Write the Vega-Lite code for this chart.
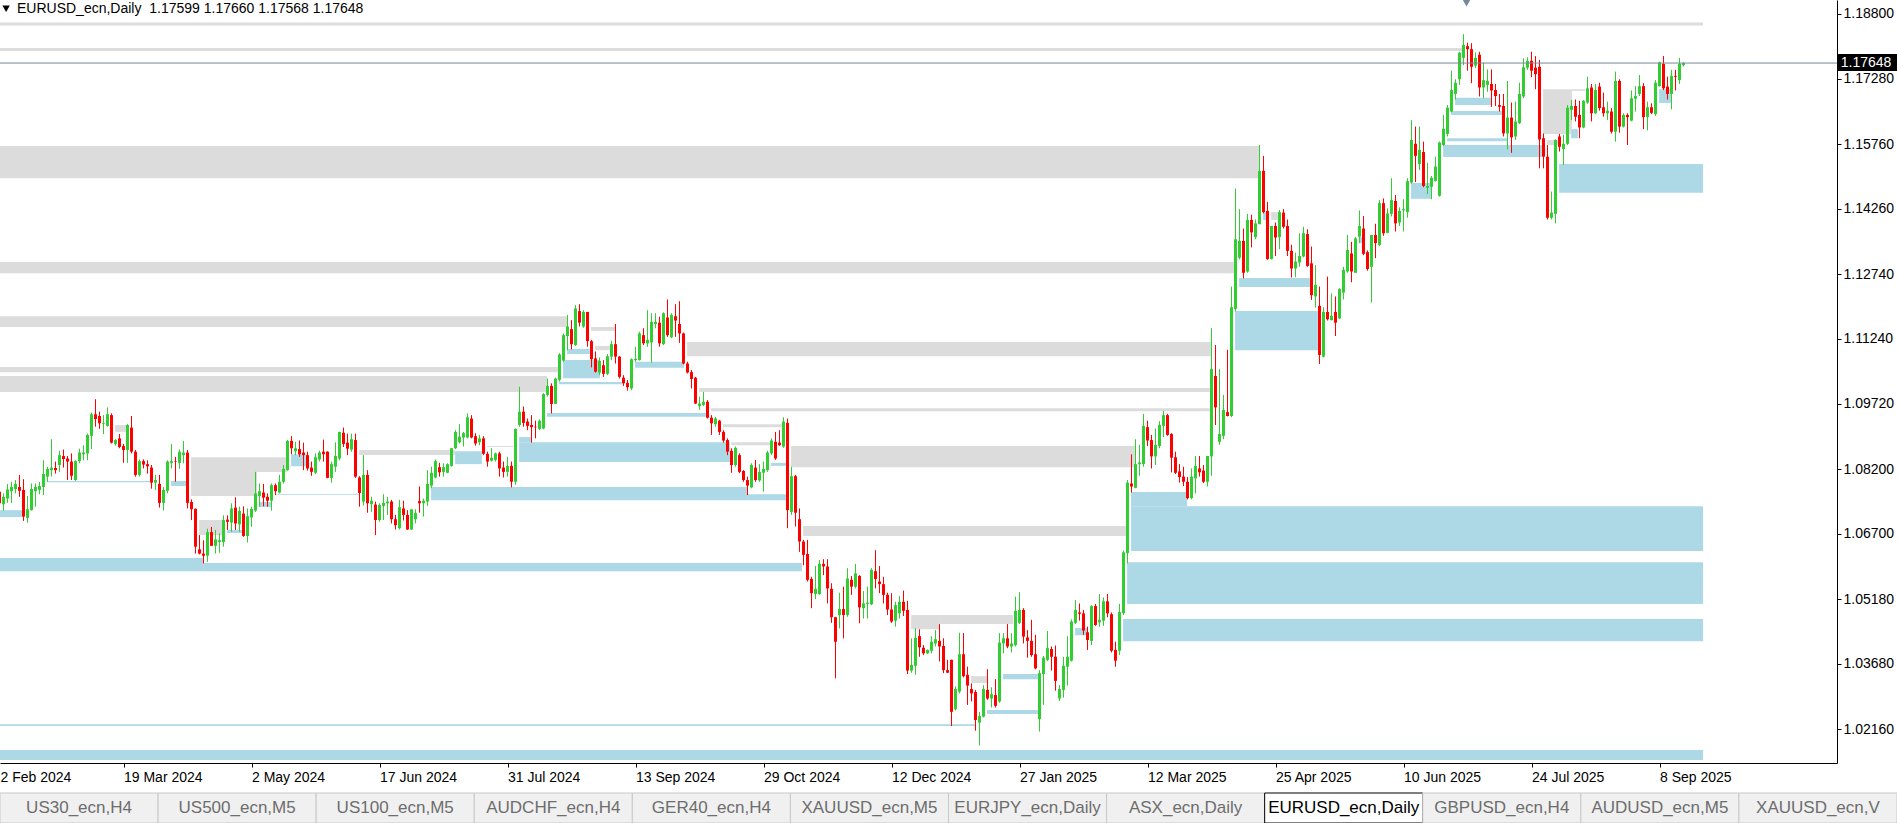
{
"$schema":"https://vega.github.io/schema/vega-lite/v6.json",
"width":1837,"height":763,
"autosize":{"type":"none"},
"padding":{"left":0,"top":0,"right":60,"bottom":60},
"background":"#ffffff",
"config":{"view":{"stroke":null},"font":"Liberation Sans","scale":{"continuousPadding":0},
"axis":{"grid":false,"title":null,"labelFont":"Liberation Sans","labelFontSize":14,"labelColor":"#000000","tickColor":"#000000","domainColor":"#000000","tickSize":4,"labelPadding":2}},
"datasets":{
"candles":[
{"k":-1,"o":1.0768,"h":1.0776,"l":1.0737,"c":1.0741},
{"k":0,"o":1.0739,"h":1.0764,"l":1.0724,"c":1.0756},
{"k":1,"o":1.0752,"h":1.0786,"l":1.0742,"c":1.0773},
{"k":2,"o":1.0769,"h":1.0791,"l":1.0742,"c":1.0779},
{"k":3,"o":1.0774,"h":1.0795,"l":1.0764,"c":1.0786},
{"k":4,"o":1.0779,"h":1.0807,"l":1.0756,"c":1.0770},
{"k":5,"o":1.0772,"h":1.0797,"l":1.0700,"c":1.0710},
{"k":6,"o":1.0707,"h":1.0758,"l":1.0696,"c":1.0727},
{"k":7,"o":1.0725,"h":1.0787,"l":1.0724,"c":1.0774},
{"k":8,"o":1.0769,"h":1.0787,"l":1.0733,"c":1.0779},
{"k":9,"o":1.0772,"h":1.0791,"l":1.0762,"c":1.0781},
{"k":10,"o":1.0779,"h":1.0841,"l":1.0760,"c":1.0809},
{"k":11,"o":1.0803,"h":1.0826,"l":1.0791,"c":1.0821},
{"k":12,"o":1.0818,"h":1.0890,"l":1.0803,"c":1.0824},
{"k":13,"o":1.0823,"h":1.0838,"l":1.0810,"c":1.0818},
{"k":14,"o":1.0830,"h":1.0863,"l":1.0814,"c":1.0853},
{"k":15,"o":1.0851,"h":1.0866,"l":1.0824,"c":1.0844},
{"k":16,"o":1.0845,"h":1.0851,"l":1.0795,"c":1.0838},
{"k":17,"o":1.0838,"h":1.0857,"l":1.0795,"c":1.0805},
{"k":18,"o":1.0795,"h":1.0841,"l":1.0793,"c":1.0839},
{"k":19,"o":1.0839,"h":1.0868,"l":1.0834,"c":1.0859},
{"k":20,"o":1.0855,"h":1.0876,"l":1.0841,"c":1.0859},
{"k":21,"o":1.0857,"h":1.0903,"l":1.0841,"c":1.0900},
{"k":22,"o":1.0898,"h":1.0952,"l":1.0867,"c":1.0948},
{"k":23,"o":1.0948,"h":1.0983,"l":1.0919,"c":1.0937},
{"k":24,"o":1.0944,"h":1.0954,"l":1.0914,"c":1.0927},
{"k":25,"o":1.0926,"h":1.0946,"l":1.0902,"c":1.0928},
{"k":26,"o":1.0921,"h":1.0964,"l":1.0919,"c":1.0948},
{"k":27,"o":1.0946,"h":1.0950,"l":1.0880,"c":1.0882},
{"k":28,"o":1.0879,"h":1.0890,"l":1.0875,"c":1.0888},
{"k":29,"o":1.0892,"h":1.0902,"l":1.0869,"c":1.0872},
{"k":30,"o":1.0874,"h":1.0879,"l":1.0835,"c":1.0865},
{"k":31,"o":1.0865,"h":1.0925,"l":1.0835,"c":1.0923},
{"k":32,"o":1.0917,"h":1.0944,"l":1.0857,"c":1.0861},
{"k":33,"o":1.0861,"h":1.0865,"l":1.0803,"c":1.0807},
{"k":34,"o":1.0807,"h":1.0843,"l":1.0803,"c":1.0839},
{"k":35,"o":1.0839,"h":1.0843,"l":1.0822,"c":1.0831},
{"k":36,"o":1.0832,"h":1.0841,"l":1.0810,"c":1.0827},
{"k":37,"o":1.0824,"h":1.0830,"l":1.0775,"c":1.0789},
{"k":38,"o":1.0789,"h":1.0807,"l":1.0772,"c":1.0795},
{"k":39,"o":1.0786,"h":1.0807,"l":1.0731,"c":1.0742},
{"k":40,"o":1.0742,"h":1.0779,"l":1.0724,"c":1.0772},
{"k":41,"o":1.0770,"h":1.0841,"l":1.0764,"c":1.0838},
{"k":42,"o":1.0835,"h":1.0879,"l":1.0822,"c":1.0839},
{"k":43,"o":1.0839,"h":1.0849,"l":1.0791,"c":1.0838},
{"k":44,"o":1.0835,"h":1.0866,"l":1.0821,"c":1.0861},
{"k":45,"o":1.0853,"h":1.0886,"l":1.0834,"c":1.0859},
{"k":46,"o":1.0859,"h":1.0865,"l":1.0729,"c":1.0742},
{"k":47,"o":1.0744,"h":1.0750,"l":1.0702,"c":1.0727},
{"k":48,"o":1.0728,"h":1.0729,"l":1.0624,"c":1.0640},
{"k":49,"o":1.0634,"h":1.0667,"l":1.0622,"c":1.0624},
{"k":50,"o":1.0624,"h":1.0655,"l":1.0601,"c":1.0619},
{"k":51,"o":1.0619,"h":1.0682,"l":1.0605,"c":1.0674},
{"k":52,"o":1.0674,"h":1.0686,"l":1.0642,"c":1.0642},
{"k":53,"o":1.0642,"h":1.0679,"l":1.0624,"c":1.0657},
{"k":54,"o":1.0651,"h":1.0671,"l":1.0626,"c":1.0655},
{"k":55,"o":1.0651,"h":1.0713,"l":1.0640,"c":1.0702},
{"k":56,"o":1.0703,"h":1.0713,"l":1.0679,"c":1.0698},
{"k":57,"o":1.0696,"h":1.0741,"l":1.0675,"c":1.0729},
{"k":58,"o":1.0731,"h":1.0755,"l":1.0679,"c":1.0694},
{"k":59,"o":1.0692,"h":1.0733,"l":1.0675,"c":1.0723},
{"k":60,"o":1.0717,"h":1.0734,"l":1.0663,"c":1.0665},
{"k":61,"o":1.0665,"h":1.0729,"l":1.0650,"c":1.0711},
{"k":62,"o":1.0708,"h":1.0733,"l":1.0686,"c":1.0728},
{"k":63,"o":1.0724,"h":1.0814,"l":1.0721,"c":1.0764},
{"k":64,"o":1.0758,"h":1.0787,"l":1.0733,"c":1.0769},
{"k":65,"o":1.0766,"h":1.0786,"l":1.0734,"c":1.0754},
{"k":66,"o":1.0756,"h":1.0764,"l":1.0733,"c":1.0747},
{"k":67,"o":1.0747,"h":1.0787,"l":1.0724,"c":1.0783},
{"k":68,"o":1.0783,"h":1.0787,"l":1.0760,"c":1.0769},
{"k":69,"o":1.0766,"h":1.0807,"l":1.0764,"c":1.0791},
{"k":70,"o":1.0791,"h":1.0830,"l":1.0787,"c":1.0821},
{"k":71,"o":1.0818,"h":1.0888,"l":1.0817,"c":1.0886},
{"k":72,"o":1.0886,"h":1.0897,"l":1.0855,"c":1.0869},
{"k":73,"o":1.0862,"h":1.0884,"l":1.0853,"c":1.0869},
{"k":74,"o":1.0867,"h":1.0887,"l":1.0849,"c":1.0855},
{"k":75,"o":1.0859,"h":1.0882,"l":1.0818,"c":1.0853},
{"k":76,"o":1.0853,"h":1.0861,"l":1.0817,"c":1.0822},
{"k":77,"o":1.0824,"h":1.0838,"l":1.0805,"c":1.0814},
{"k":78,"o":1.0812,"h":1.0857,"l":1.0809,"c":1.0848},
{"k":79,"o":1.0843,"h":1.0863,"l":1.0838,"c":1.0859},
{"k":80,"o":1.0861,"h":1.0889,"l":1.0838,"c":1.0855},
{"k":81,"o":1.0861,"h":1.0862,"l":1.0799,"c":1.0800},
{"k":82,"o":1.0800,"h":1.0838,"l":1.0789,"c":1.0832},
{"k":83,"o":1.0826,"h":1.0883,"l":1.0814,"c":1.0851},
{"k":84,"o":1.0845,"h":1.0907,"l":1.0841,"c":1.0907},
{"k":85,"o":1.0905,"h":1.0917,"l":1.0872,"c":1.0879},
{"k":86,"o":1.0882,"h":1.0903,"l":1.0853,"c":1.0868},
{"k":87,"o":1.0866,"h":1.0903,"l":1.0861,"c":1.0890},
{"k":88,"o":1.0888,"h":1.0903,"l":1.0800,"c":1.0803},
{"k":89,"o":1.0801,"h":1.0804,"l":1.0733,"c":1.0765},
{"k":90,"o":1.0745,"h":1.0853,"l":1.0736,"c":1.0807},
{"k":91,"o":1.0807,"h":1.0818,"l":1.0719,"c":1.0741},
{"k":92,"o":1.0739,"h":1.0756,"l":1.0721,"c":1.0747},
{"k":93,"o":1.0738,"h":1.0745,"l":1.0667,"c":1.0702},
{"k":94,"o":1.0702,"h":1.0741,"l":1.0698,"c":1.0737},
{"k":95,"o":1.0735,"h":1.0762,"l":1.0702,"c":1.0742},
{"k":96,"o":1.0741,"h":1.0756,"l":1.0714,"c":1.0745},
{"k":97,"o":1.0745,"h":1.0749,"l":1.0694,"c":1.0704},
{"k":98,"o":1.0704,"h":1.0714,"l":1.0680,"c":1.0690},
{"k":99,"o":1.0683,"h":1.0749,"l":1.0680,"c":1.0732},
{"k":100,"o":1.0729,"h":1.0747,"l":1.0701,"c":1.0714},
{"k":101,"o":1.0714,"h":1.0725,"l":1.0679,"c":1.0680},
{"k":102,"o":1.0680,"h":1.0727,"l":1.0679,"c":1.0727},
{"k":103,"o":1.0704,"h":1.0727,"l":1.0694,"c":1.0718},
{"k":104,"o":1.0746,"h":1.0780,"l":1.0719,"c":1.0741},
{"k":105,"o":1.0741,"h":1.0752,"l":1.0710,"c":1.0747},
{"k":106,"o":1.0745,"h":1.0818,"l":1.0735,"c":1.0786},
{"k":107,"o":1.0782,"h":1.0826,"l":1.0776,"c":1.0812},
{"k":108,"o":1.0801,"h":1.0843,"l":1.0799,"c":1.0839},
{"k":109,"o":1.0825,"h":1.0835,"l":1.0803,"c":1.0813},
{"k":110,"o":1.0814,"h":1.0834,"l":1.0803,"c":1.0825},
{"k":111,"o":1.0812,"h":1.0834,"l":1.0811,"c":1.0832},
{"k":112,"o":1.0828,"h":1.0869,"l":1.0826,"c":1.0869},
{"k":113,"o":1.0869,"h":1.0911,"l":1.0867,"c":1.0907},
{"k":114,"o":1.0883,"h":1.0925,"l":1.0880,"c":1.0896},
{"k":115,"o":1.0894,"h":1.0907,"l":1.0873,"c":1.0904},
{"k":116,"o":1.0894,"h":1.0950,"l":1.0892,"c":1.0941},
{"k":117,"o":1.0938,"h":1.0946,"l":1.0892,"c":1.0894},
{"k":118,"o":1.0897,"h":1.0904,"l":1.0875,"c":1.0880},
{"k":119,"o":1.0883,"h":1.0900,"l":1.0876,"c":1.0892},
{"k":120,"o":1.0892,"h":1.0897,"l":1.0853,"c":1.0856},
{"k":121,"o":1.0856,"h":1.0861,"l":1.0826,"c":1.0838},
{"k":122,"o":1.0840,"h":1.0869,"l":1.0838,"c":1.0847},
{"k":123,"o":1.0842,"h":1.0859,"l":1.0838,"c":1.0857},
{"k":124,"o":1.0857,"h":1.0861,"l":1.0803,"c":1.0822},
{"k":125,"o":1.0824,"h":1.0838,"l":1.0801,"c":1.0814},
{"k":126,"o":1.0814,"h":1.0849,"l":1.0803,"c":1.0828},
{"k":127,"o":1.0828,"h":1.0838,"l":1.0778,"c":1.0791},
{"k":128,"o":1.0791,"h":1.0915,"l":1.0784,"c":1.0914},
{"k":129,"o":1.0923,"h":1.1012,"l":1.0919,"c":1.0954},
{"k":130,"o":1.0954,"h":1.0966,"l":1.0919,"c":1.0928},
{"k":131,"o":1.0931,"h":1.0938,"l":1.0911,"c":1.0921},
{"k":132,"o":1.0923,"h":1.0946,"l":1.0882,"c":1.0918},
{"k":133,"o":1.0919,"h":1.0933,"l":1.0892,"c":1.0918},
{"k":134,"o":1.0914,"h":1.0936,"l":1.0911,"c":1.0933},
{"k":135,"o":1.0915,"h":1.0997,"l":1.0913,"c":1.0995},
{"k":136,"o":1.0993,"h":1.1031,"l":1.0989,"c":1.1014},
{"k":137,"o":1.1014,"h":1.1020,"l":1.0950,"c":1.0972},
{"k":138,"o":1.0972,"h":1.1033,"l":1.0972,"c":1.1031},
{"k":139,"o":1.1028,"h":1.1090,"l":1.1024,"c":1.1087},
{"k":140,"o":1.1073,"h":1.1136,"l":1.1070,"c":1.1132},
{"k":141,"o":1.1130,"h":1.1179,"l":1.1097,"c":1.1152},
{"k":142,"o":1.1146,"h":1.1167,"l":1.1099,"c":1.1111},
{"k":143,"o":1.1109,"h":1.1202,"l":1.1107,"c":1.1194},
{"k":144,"o":1.1188,"h":1.1204,"l":1.1152,"c":1.1161},
{"k":145,"o":1.1152,"h":1.1190,"l":1.1149,"c":1.1186},
{"k":146,"o":1.1186,"h":1.1186,"l":1.1105,"c":1.1118},
{"k":147,"o":1.1118,"h":1.1121,"l":1.1057,"c":1.1076},
{"k":148,"o":1.1078,"h":1.1094,"l":1.1045,"c":1.1047},
{"k":149,"o":1.1045,"h":1.1080,"l":1.1039,"c":1.1072},
{"k":150,"o":1.1062,"h":1.1074,"l":1.1035,"c":1.1042},
{"k":151,"o":1.1042,"h":1.1088,"l":1.1039,"c":1.1083},
{"k":152,"o":1.1082,"h":1.1119,"l":1.1074,"c":1.1111},
{"k":153,"o":1.1111,"h":1.1158,"l":1.1066,"c":1.1082},
{"k":154,"o":1.1082,"h":1.1083,"l":1.1031,"c":1.1035},
{"k":155,"o":1.1033,"h":1.1039,"l":1.1014,"c":1.1020},
{"k":156,"o":1.1021,"h":1.1028,"l":1.1003,"c":1.1011},
{"k":157,"o":1.1008,"h":1.1078,"l":1.1004,"c":1.1076},
{"k":158,"o":1.1074,"h":1.1105,"l":1.1070,"c":1.1077},
{"k":159,"o":1.1074,"h":1.1140,"l":1.1073,"c":1.1136},
{"k":160,"o":1.1132,"h":1.1148,"l":1.1109,"c":1.1113},
{"k":161,"o":1.1113,"h":1.1190,"l":1.1105,"c":1.1121},
{"k":162,"o":1.1115,"h":1.1183,"l":1.1068,"c":1.1163},
{"k":163,"o":1.1158,"h":1.1183,"l":1.1148,"c":1.1163},
{"k":164,"o":1.1161,"h":1.1175,"l":1.1105,"c":1.1113},
{"k":165,"o":1.1111,"h":1.1185,"l":1.1109,"c":1.1183},
{"k":166,"o":1.1173,"h":1.1215,"l":1.1128,"c":1.1132},
{"k":167,"o":1.1127,"h":1.1183,"l":1.1125,"c":1.1179},
{"k":168,"o":1.1176,"h":1.1204,"l":1.1128,"c":1.1166},
{"k":169,"o":1.1158,"h":1.1211,"l":1.1114,"c":1.1136},
{"k":170,"o":1.1136,"h":1.1138,"l":1.1064,"c":1.1066},
{"k":171,"o":1.1066,"h":1.1070,"l":1.1043,"c":1.1045},
{"k":172,"o":1.1046,"h":1.1051,"l":1.1008,"c":1.1030},
{"k":173,"o":1.1033,"h":1.1035,"l":1.0972,"c":1.0973},
{"k":174,"o":1.0967,"h":1.0989,"l":1.0958,"c":1.0973},
{"k":175,"o":1.0970,"h":1.1000,"l":1.0967,"c":1.0977},
{"k":176,"o":1.0977,"h":1.0981,"l":1.0938,"c":1.0940},
{"k":177,"o":1.0940,"h":1.0946,"l":1.0900,"c":1.0927},
{"k":178,"o":1.0925,"h":1.0942,"l":1.0919,"c":1.0938},
{"k":179,"o":1.0933,"h":1.0935,"l":1.0900,"c":1.0907},
{"k":180,"o":1.0907,"h":1.0911,"l":1.0882,"c":1.0887},
{"k":181,"o":1.0888,"h":1.0892,"l":1.0853,"c":1.0861},
{"k":182,"o":1.0863,"h":1.0869,"l":1.0812,"c":1.0830},
{"k":183,"o":1.0830,"h":1.0873,"l":1.0826,"c":1.0870},
{"k":184,"o":1.0853,"h":1.0857,"l":1.0811,"c":1.0814},
{"k":185,"o":1.0816,"h":1.0818,"l":1.0791,"c":1.0795},
{"k":186,"o":1.0795,"h":1.0803,"l":1.0760,"c":1.0782},
{"k":187,"o":1.0778,"h":1.0834,"l":1.0776,"c":1.0830},
{"k":188,"o":1.0824,"h":1.0842,"l":1.0791,"c":1.0795},
{"k":189,"o":1.0794,"h":1.0832,"l":1.0791,"c":1.0814},
{"k":190,"o":1.0812,"h":1.0838,"l":1.0768,"c":1.0821},
{"k":191,"o":1.0818,"h":1.0863,"l":1.0814,"c":1.0859},
{"k":192,"o":1.0857,"h":1.0892,"l":1.0853,"c":1.0887},
{"k":193,"o":1.0884,"h":1.0907,"l":1.0842,"c":1.0845},
{"k":194,"o":1.0882,"h":1.0911,"l":1.0875,"c":1.0876},
{"k":195,"o":1.0873,"h":1.0941,"l":1.0870,"c":1.0931},
{"k":196,"o":1.0928,"h":1.0938,"l":1.0683,"c":1.0725},
{"k":197,"o":1.0721,"h":1.0826,"l":1.0714,"c":1.0804},
{"k":198,"o":1.0804,"h":1.0807,"l":1.0687,"c":1.0719},
{"k":199,"o":1.0704,"h":1.0729,"l":1.0628,"c":1.0652},
{"k":200,"o":1.0652,"h":1.0656,"l":1.0597,"c":1.0621},
{"k":201,"o":1.0623,"h":1.0656,"l":1.0559,"c":1.0563},
{"k":202,"o":1.0565,"h":1.0570,"l":1.0497,"c":1.0532},
{"k":203,"o":1.0530,"h":1.0595,"l":1.0518,"c":1.0542},
{"k":204,"o":1.0530,"h":1.0609,"l":1.0528,"c":1.0600},
{"k":205,"o":1.0600,"h":1.0611,"l":1.0574,"c":1.0594},
{"k":206,"o":1.0594,"h":1.0611,"l":1.0508,"c":1.0543},
{"k":207,"o":1.0542,"h":1.0555,"l":1.0463,"c":1.0476},
{"k":208,"o":1.0476,"h":1.0477,"l":1.0334,"c":1.0419},
{"k":209,"o":1.0481,"h":1.0533,"l":1.0450,"c":1.0495},
{"k":210,"o":1.0495,"h":1.0547,"l":1.0427,"c":1.0481},
{"k":211,"o":1.0481,"h":1.0590,"l":1.0477,"c":1.0566},
{"k":212,"o":1.0563,"h":1.0572,"l":1.0528,"c":1.0547},
{"k":213,"o":1.0547,"h":1.0600,"l":1.0543,"c":1.0578},
{"k":214,"o":1.0572,"h":1.0574,"l":1.0462,"c":1.0499},
{"k":215,"o":1.0497,"h":1.0537,"l":1.0473,"c":1.0508},
{"k":216,"o":1.0507,"h":1.0547,"l":1.0473,"c":1.0510},
{"k":217,"o":1.0506,"h":1.0590,"l":1.0504,"c":1.0586},
{"k":218,"o":1.0583,"h":1.0632,"l":1.0543,"c":1.0565},
{"k":219,"o":1.0559,"h":1.0595,"l":1.0532,"c":1.0553},
{"k":220,"o":1.0553,"h":1.0570,"l":1.0508,"c":1.0528},
{"k":221,"o":1.0528,"h":1.0533,"l":1.0481,"c":1.0494},
{"k":222,"o":1.0494,"h":1.0532,"l":1.0463,"c":1.0466},
{"k":223,"o":1.0468,"h":1.0512,"l":1.0454,"c":1.0504},
{"k":224,"o":1.0485,"h":1.0525,"l":1.0473,"c":1.0512},
{"k":225,"o":1.0512,"h":1.0538,"l":1.0479,"c":1.0491},
{"k":226,"o":1.0493,"h":1.0514,"l":1.0344,"c":1.0352},
{"k":227,"o":1.0352,"h":1.0427,"l":1.0347,"c":1.0365},
{"k":228,"o":1.0363,"h":1.0450,"l":1.0342,"c":1.0428},
{"k":229,"o":1.0432,"h":1.0448,"l":1.0384,"c":1.0406},
{"k":230,"o":1.0405,"h":1.0411,"l":1.0388,"c":1.0392},
{"k":231,"o":1.0392,"h":1.0401,"l":1.0390,"c":1.0400},
{"k":232,"o":1.0398,"h":1.0432,"l":1.0392,"c":1.0419},
{"k":233,"o":1.0415,"h":1.0446,"l":1.0408,"c":1.0425},
{"k":234,"o":1.0421,"h":1.0460,"l":1.0373,"c":1.0408},
{"k":235,"o":1.0409,"h":1.0427,"l":1.0346,"c":1.0353},
{"k":236,"o":1.0353,"h":1.0377,"l":1.0346,"c":1.0347},
{"k":237,"o":1.0377,"h":1.0377,"l":1.0223,"c":1.0256},
{"k":238,"o":1.0262,"h":1.0315,"l":1.0259,"c":1.0309},
{"k":239,"o":1.0303,"h":1.0440,"l":1.0299,"c":1.0390},
{"k":240,"o":1.0390,"h":1.0439,"l":1.0336,"c":1.0339},
{"k":241,"o":1.0342,"h":1.0361,"l":1.0272,"c":1.0317},
{"k":242,"o":1.0309,"h":1.0322,"l":1.0280,"c":1.0299},
{"k":243,"o":1.0302,"h":1.0307,"l":1.0212,"c":1.0237},
{"k":244,"o":1.0231,"h":1.0256,"l":1.0178,"c":1.0246},
{"k":245,"o":1.0245,"h":1.0318,"l":1.0243,"c":1.0309},
{"k":246,"o":1.0307,"h":1.0355,"l":1.0284,"c":1.0287},
{"k":247,"o":1.0287,"h":1.0313,"l":1.0266,"c":1.0297},
{"k":248,"o":1.0295,"h":1.0332,"l":1.0266,"c":1.0270},
{"k":249,"o":1.0280,"h":1.0439,"l":1.0277,"c":1.0417},
{"k":250,"o":1.0415,"h":1.0439,"l":1.0392,"c":1.0427},
{"k":251,"o":1.0427,"h":1.0460,"l":1.0404,"c":1.0408},
{"k":252,"o":1.0408,"h":1.0439,"l":1.0394,"c":1.0415},
{"k":253,"o":1.0411,"h":1.0524,"l":1.0408,"c":1.0491},
{"k":254,"o":1.0463,"h":1.0534,"l":1.0460,"c":1.0493},
{"k":255,"o":1.0493,"h":1.0497,"l":1.0415,"c":1.0431},
{"k":256,"o":1.0429,"h":1.0446,"l":1.0382,"c":1.0421},
{"k":257,"o":1.0421,"h":1.0470,"l":1.0384,"c":1.0388},
{"k":258,"o":1.0390,"h":1.0435,"l":1.0355,"c":1.0357},
{"k":259,"o":1.0239,"h":1.0353,"l":1.0210,"c":1.0346},
{"k":260,"o":1.0344,"h":1.0386,"l":1.0272,"c":1.0382},
{"k":261,"o":1.0377,"h":1.0444,"l":1.0374,"c":1.0404},
{"k":262,"o":1.0402,"h":1.0408,"l":1.0352,"c":1.0384},
{"k":263,"o":1.0384,"h":1.0410,"l":1.0305,"c":1.0328},
{"k":264,"o":1.0287,"h":1.0318,"l":1.0281,"c":1.0309},
{"k":265,"o":1.0307,"h":1.0384,"l":1.0289,"c":1.0363},
{"k":266,"o":1.0361,"h":1.0432,"l":1.0317,"c":1.0384},
{"k":267,"o":1.0375,"h":1.0471,"l":1.0373,"c":1.0466},
{"k":268,"o":1.0463,"h":1.0516,"l":1.0460,"c":1.0493},
{"k":269,"o":1.0487,"h":1.0508,"l":1.0468,"c":1.0484},
{"k":270,"o":1.0485,"h":1.0493,"l":1.0435,"c":1.0445},
{"k":271,"o":1.0441,"h":1.0454,"l":1.0400,"c":1.0423},
{"k":272,"o":1.0421,"h":1.0504,"l":1.0411,"c":1.0502},
{"k":273,"o":1.0502,"h":1.0507,"l":1.0456,"c":1.0458},
{"k":274,"o":1.0464,"h":1.0530,"l":1.0454,"c":1.0470},
{"k":275,"o":1.0468,"h":1.0522,"l":1.0456,"c":1.0513},
{"k":276,"o":1.0513,"h":1.0530,"l":1.0476,"c":1.0485},
{"k":277,"o":1.0483,"h":1.0487,"l":1.0394,"c":1.0398},
{"k":278,"o":1.0400,"h":1.0419,"l":1.0361,"c":1.0375},
{"k":279,"o":1.0398,"h":1.0507,"l":1.0388,"c":1.0488},
{"k":280,"o":1.0485,"h":1.0631,"l":1.0481,"c":1.0627},
{"k":281,"o":1.0625,"h":1.0795,"l":1.0601,"c":1.0789},
{"k":282,"o":1.0787,"h":1.0855,"l":1.0766,"c":1.0780},
{"k":283,"o":1.0777,"h":1.0890,"l":1.0776,"c":1.0832},
{"k":284,"o":1.0832,"h":1.0877,"l":1.0805,"c":1.0836},
{"k":285,"o":1.0832,"h":1.0949,"l":1.0826,"c":1.0921},
{"k":286,"o":1.0918,"h":1.0933,"l":1.0874,"c":1.0887},
{"k":287,"o":1.0888,"h":1.0900,"l":1.0822,"c":1.0850},
{"k":288,"o":1.0850,"h":1.0915,"l":1.0830,"c":1.0877},
{"k":289,"o":1.0874,"h":1.0932,"l":1.0869,"c":1.0923},
{"k":290,"o":1.0921,"h":1.0956,"l":1.0895,"c":1.0946},
{"k":291,"o":1.0946,"h":1.0949,"l":1.0898,"c":1.0900},
{"k":292,"o":1.0902,"h":1.0904,"l":1.0813,"c":1.0847},
{"k":293,"o":1.0848,"h":1.0861,"l":1.0809,"c":1.0812},
{"k":294,"o":1.0815,"h":1.0832,"l":1.0789,"c":1.0802},
{"k":295,"o":1.0803,"h":1.0826,"l":1.0781,"c":1.0791},
{"k":296,"o":1.0791,"h":1.0802,"l":1.0750,"c":1.0753},
{"k":297,"o":1.0753,"h":1.0822,"l":1.0750,"c":1.0803},
{"k":298,"o":1.0799,"h":1.0851,"l":1.0764,"c":1.0828},
{"k":299,"o":1.0822,"h":1.0851,"l":1.0803,"c":1.0813},
{"k":300,"o":1.0817,"h":1.0830,"l":1.0788,"c":1.0791},
{"k":301,"o":1.0791,"h":1.0851,"l":1.0780,"c":1.0851},
{"k":302,"o":1.0850,"h":1.1148,"l":1.0805,"c":1.1053},
{"k":303,"o":1.1037,"h":1.1109,"l":1.0923,"c":1.0964},
{"k":304,"o":1.0884,"h":1.1053,"l":1.0877,"c":1.0902},
{"k":305,"o":1.0898,"h":1.0993,"l":1.0890,"c":1.0958},
{"k":306,"o":1.0953,"h":1.1098,"l":1.0943,"c":1.0944},
{"k":307,"o":1.0944,"h":1.1245,"l":1.0941,"c":1.1197},
{"k":308,"o":1.1193,"h":1.1473,"l":1.1187,"c":1.1355},
{"k":309,"o":1.1312,"h":1.1425,"l":1.1308,"c":1.1351},
{"k":310,"o":1.1351,"h":1.1380,"l":1.1264,"c":1.1277},
{"k":311,"o":1.1280,"h":1.1414,"l":1.1277,"c":1.1400},
{"k":312,"o":1.1400,"h":1.1412,"l":1.1336,"c":1.1371},
{"k":313,"o":1.1360,"h":1.1401,"l":1.1355,"c":1.1392},
{"k":314,"o":1.1390,"h":1.1574,"l":1.1390,"c":1.1514},
{"k":315,"o":1.1514,"h":1.1549,"l":1.1415,"c":1.1418},
{"k":316,"o":1.1421,"h":1.1442,"l":1.1307,"c":1.1309},
{"k":317,"o":1.1309,"h":1.1386,"l":1.1308,"c":1.1386},
{"k":318,"o":1.1386,"h":1.1394,"l":1.1316,"c":1.1359},
{"k":319,"o":1.1360,"h":1.1423,"l":1.1332,"c":1.1418},
{"k":320,"o":1.1417,"h":1.1425,"l":1.1380,"c":1.1384},
{"k":321,"o":1.1386,"h":1.1401,"l":1.1316,"c":1.1328},
{"k":322,"o":1.1328,"h":1.1342,"l":1.1266,"c":1.1287},
{"k":323,"o":1.1287,"h":1.1324,"l":1.1267,"c":1.1303},
{"k":324,"o":1.1301,"h":1.1369,"l":1.1291,"c":1.1316},
{"k":325,"o":1.1315,"h":1.1384,"l":1.1313,"c":1.1369},
{"k":326,"o":1.1367,"h":1.1378,"l":1.1291,"c":1.1293},
{"k":327,"o":1.1299,"h":1.1338,"l":1.1214,"c":1.1225},
{"k":328,"o":1.1222,"h":1.1295,"l":1.1196,"c":1.1249},
{"k":329,"o":1.1200,"h":1.1245,"l":1.1065,"c":1.1086},
{"k":330,"o":1.1082,"h":1.1197,"l":1.1080,"c":1.1186},
{"k":331,"o":1.1186,"h":1.1268,"l":1.1166,"c":1.1169},
{"k":332,"o":1.1167,"h":1.1229,"l":1.1166,"c":1.1177},
{"k":333,"o":1.1186,"h":1.1222,"l":1.1130,"c":1.1161},
{"k":334,"o":1.1171,"h":1.1241,"l":1.1169,"c":1.1239},
{"k":335,"o":1.1231,"h":1.1291,"l":1.1215,"c":1.1284},
{"k":336,"o":1.1280,"h":1.1365,"l":1.1277,"c":1.1330},
{"k":337,"o":1.1322,"h":1.1349,"l":1.1255,"c":1.1280},
{"k":338,"o":1.1277,"h":1.1360,"l":1.1277,"c":1.1357},
{"k":339,"o":1.1361,"h":1.1422,"l":1.1346,"c":1.1386},
{"k":340,"o":1.1380,"h":1.1409,"l":1.1318,"c":1.1321},
{"k":341,"o":1.1325,"h":1.1329,"l":1.1282,"c":1.1286},
{"k":342,"o":1.1291,"h":1.1365,"l":1.1208,"c":1.1365},
{"k":343,"o":1.1365,"h":1.1391,"l":1.1311,"c":1.1346},
{"k":344,"o":1.1342,"h":1.1446,"l":1.1339,"c":1.1439},
{"k":345,"o":1.1439,"h":1.1450,"l":1.1363,"c":1.1369},
{"k":346,"o":1.1370,"h":1.1427,"l":1.1369,"c":1.1415},
{"k":347,"o":1.1414,"h":1.1497,"l":1.1408,"c":1.1446},
{"k":348,"o":1.1444,"h":1.1458,"l":1.1373,"c":1.1392},
{"k":349,"o":1.1394,"h":1.1429,"l":1.1386,"c":1.1421},
{"k":350,"o":1.1422,"h":1.1448,"l":1.1373,"c":1.1425},
{"k":351,"o":1.1418,"h":1.1497,"l":1.1405,"c":1.1490},
{"k":352,"o":1.1487,"h":1.1632,"l":1.1484,"c":1.1586},
{"k":353,"o":1.1577,"h":1.1617,"l":1.1488,"c":1.1549},
{"k":354,"o":1.1530,"h":1.1617,"l":1.1516,"c":1.1563},
{"k":355,"o":1.1558,"h":1.1582,"l":1.1476,"c":1.1479},
{"k":356,"o":1.1475,"h":1.1533,"l":1.1460,"c":1.1479},
{"k":357,"o":1.1477,"h":1.1502,"l":1.1448,"c":1.1498},
{"k":358,"o":1.1491,"h":1.1547,"l":1.1489,"c":1.1524},
{"k":359,"o":1.1456,"h":1.1582,"l":1.1454,"c":1.1580},
{"k":360,"o":1.1574,"h":1.1644,"l":1.1572,"c":1.1612},
{"k":361,"o":1.1600,"h":1.1667,"l":1.1594,"c":1.1661},
{"k":362,"o":1.1652,"h":1.1747,"l":1.1650,"c":1.1702},
{"k":363,"o":1.1693,"h":1.1727,"l":1.1680,"c":1.1719},
{"k":364,"o":1.1727,"h":1.1791,"l":1.1714,"c":1.1789},
{"k":365,"o":1.1777,"h":1.1832,"l":1.1760,"c":1.1807},
{"k":366,"o":1.1804,"h":1.1812,"l":1.1747,"c":1.1797},
{"k":367,"o":1.1797,"h":1.1811,"l":1.1718,"c":1.1756},
{"k":368,"o":1.1759,"h":1.1789,"l":1.1753,"c":1.1777},
{"k":369,"o":1.1784,"h":1.1791,"l":1.1687,"c":1.1708},
{"k":370,"o":1.1708,"h":1.1766,"l":1.1683,"c":1.1725},
{"k":371,"o":1.1714,"h":1.1750,"l":1.1698,"c":1.1723},
{"k":372,"o":1.1716,"h":1.1750,"l":1.1663,"c":1.1701},
{"k":373,"o":1.1702,"h":1.1716,"l":1.1665,"c":1.1688},
{"k":374,"o":1.1667,"h":1.1693,"l":1.1652,"c":1.1663},
{"k":375,"o":1.1665,"h":1.1693,"l":1.1594,"c":1.1601},
{"k":376,"o":1.1601,"h":1.1723,"l":1.1564,"c":1.1638},
{"k":377,"o":1.1638,"h":1.1673,"l":1.1556,"c":1.1592},
{"k":378,"o":1.1594,"h":1.1675,"l":1.1586,"c":1.1629},
{"k":379,"o":1.1625,"h":1.1719,"l":1.1623,"c":1.1693},
{"k":380,"o":1.1687,"h":1.1776,"l":1.1683,"c":1.1755},
{"k":381,"o":1.1754,"h":1.1778,"l":1.1749,"c":1.1770},
{"k":382,"o":1.1770,"h":1.1791,"l":1.1732,"c":1.1747},
{"k":383,"o":1.1754,"h":1.1781,"l":1.1704,"c":1.1739},
{"k":384,"o":1.1756,"h":1.1772,"l":1.1520,"c":1.1587},
{"k":385,"o":1.1590,"h":1.1601,"l":1.1520,"c":1.1547},
{"k":386,"o":1.1547,"h":1.1574,"l":1.1401,"c":1.1405},
{"k":387,"o":1.1405,"h":1.1466,"l":1.1401,"c":1.1417},
{"k":388,"o":1.1414,"h":1.1587,"l":1.1392,"c":1.1586},
{"k":389,"o":1.1594,"h":1.1600,"l":1.1559,"c":1.1570},
{"k":390,"o":1.1565,"h":1.1598,"l":1.1528,"c":1.1577},
{"k":391,"o":1.1577,"h":1.1667,"l":1.1574,"c":1.1661},
{"k":392,"o":1.1656,"h":1.1679,"l":1.1632,"c":1.1665},
{"k":393,"o":1.1665,"h":1.1680,"l":1.1629,"c":1.1640},
{"k":394,"o":1.1644,"h":1.1677,"l":1.1590,"c":1.1615},
{"k":395,"o":1.1615,"h":1.1679,"l":1.1613,"c":1.1677},
{"k":396,"o":1.1673,"h":1.1733,"l":1.1670,"c":1.1706},
{"k":397,"o":1.1708,"h":1.1716,"l":1.1629,"c":1.1648},
{"k":398,"o":1.1648,"h":1.1716,"l":1.1646,"c":1.1702},
{"k":399,"o":1.1710,"h":1.1719,"l":1.1654,"c":1.1660},
{"k":400,"o":1.1662,"h":1.1696,"l":1.1640,"c":1.1648},
{"k":401,"o":1.1648,"h":1.1675,"l":1.1632,"c":1.1654},
{"k":402,"o":1.1652,"h":1.1660,"l":1.1601,"c":1.1605},
{"k":403,"o":1.1605,"h":1.1745,"l":1.1582,"c":1.1723},
{"k":404,"o":1.1723,"h":1.1727,"l":1.1603,"c":1.1617},
{"k":405,"o":1.1617,"h":1.1648,"l":1.1615,"c":1.1644},
{"k":406,"o":1.1644,"h":1.1648,"l":1.1574,"c":1.1639},
{"k":407,"o":1.1631,"h":1.1701,"l":1.1629,"c":1.1683},
{"k":408,"o":1.1682,"h":1.1711,"l":1.1652,"c":1.1688},
{"k":409,"o":1.1693,"h":1.1737,"l":1.1688,"c":1.1711},
{"k":410,"o":1.1711,"h":1.1718,"l":1.1611,"c":1.1639},
{"k":411,"o":1.1639,"h":1.1675,"l":1.1608,"c":1.1662},
{"k":412,"o":1.1662,"h":1.1671,"l":1.1646,"c":1.1649},
{"k":413,"o":1.1646,"h":1.1725,"l":1.1642,"c":1.1719},
{"k":414,"o":1.1711,"h":1.1768,"l":1.1710,"c":1.1766},
{"k":415,"o":1.1763,"h":1.1781,"l":1.1702,"c":1.1706},
{"k":416,"o":1.1710,"h":1.1733,"l":1.1680,"c":1.1693},
{"k":417,"o":1.1693,"h":1.1749,"l":1.1657,"c":1.1735},
{"k":418,"o":1.1735,"h":1.1749,"l":1.1701,"c":1.1733},
{"k":419,"o":1.1725,"h":1.1777,"l":1.1716,"c":1.1763},
{"k":420,"o":1.17599,"h":1.1766,"l":1.17568,"c":1.17648}
],
"zones":[
{"t":"s","a":-0.875,"b":424.9,"p":1.1859,"q":1.1852},
{"t":"s","a":-0.875,"b":364.9,"p":1.1800,"q":1.1793},
{"t":"s","a":-0.875,"b":313.9,"p":1.1572,"q":1.1497},
{"t":"s","a":-0.875,"b":307.6,"p":1.1302,"q":1.1276},
{"t":"s","a":-0.875,"b":140.9,"p":1.1176,"q":1.1151},
{"t":"s","a":-0.875,"b":138.6,"p":1.1058,"q":1.1046},
{"t":"s","a":-0.875,"b":135.9,"p":1.1037,"q":1.1000},
{"t":"s","a":88.9,"b":112.9,"p":1.0865,"q":1.0853},
{"t":"s","a":170.9,"b":301.9,"p":1.1116,"q":1.1083},
{"t":"s","a":173.9,"b":301.6,"p":1.1009,"q":1.1000},
{"t":"s","a":176.9,"b":301.6,"p":1.0962,"q":1.0955},
{"t":"s","a":179.9,"b":194.6,"p":1.0925,"q":1.0918},
{"t":"s","a":181.9,"b":191.6,"p":1.0883,"q":1.0876},
{"t":"s","a":196.9,"b":282.9,"p":1.0874,"q":1.0825},
{"t":"s","a":199.9,"b":280.9,"p":1.0688,"q":1.0665},
{"t":"s","a":226.9,"b":233.9,"p":1.0481,"q":1.0448},
{"t":"s","a":233.9,"b":252.4,"p":1.0481,"q":1.0460},
{"t":"s","a":241.9,"b":245.9,"p":1.0339,"q":1.0323},
{"t":"s","a":384.9,"b":392.1,"p":1.1704,"q":1.1600},
{"t":"s","a":392.1,"b":395.4,"p":1.1704,"q":1.1700},
{"t":"s","a":46.9,"b":70.9,"p":1.0848,"q":1.0814},
{"t":"s","a":46.9,"b":63.4,"p":1.0814,"q":1.0758},
{"t":"s","a":48.9,"b":54.9,"p":1.0702,"q":1.0667},
{"t":"s","a":27.9,"b":30.9,"p":1.0923,"q":1.0907},
{"t":"s","a":146.9,"b":152.9,"p":1.1151,"q":1.1142},
{"t":"s","a":147.9,"b":151.6,"p":1.1107,"q":1.1097},
{"t":"s","a":120.9,"b":127.4,"p":1.0874,"q":1.0872},
{"t":"s","a":385.9,"b":388.6,"p":1.1586,"q":1.1574},
{"t":"s","a":316.9,"b":318.6,"p":1.1418,"q":1.1400},
{"t":"d","a":-0.875,"b":424.9,"p":1.0167,"q":1.0144},
{"t":"d","a":-0.875,"b":49.9,"p":1.0614,"q":1.0583},
{"t":"d","a":49.9,"b":199.6,"p":1.0602,"q":1.0583},
{"t":"d","a":-0.875,"b":242.9,"p":1.0227,"q":1.0223},
{"t":"d","a":-0.875,"b":4.6,"p":1.0725,"q":1.0709},
{"t":"d","a":10.9,"b":37.1,"p":1.0793,"q":1.0790},
{"t":"d","a":41.9,"b":45.9,"p":1.0793,"q":1.0781},
{"t":"d","a":71.9,"b":75.6,"p":1.0855,"q":1.0827},
{"t":"d","a":67.9,"b":88.9,"p":1.0762,"q":1.0760},
{"t":"d","a":63.9,"b":66.9,"p":1.0744,"q":1.0732},
{"t":"d","a":55.9,"b":59.6,"p":1.0679,"q":1.0672},
{"t":"d","a":112.9,"b":119.6,"p":1.0862,"q":1.0832},
{"t":"d","a":128.9,"b":181.6,"p":1.0883,"q":1.0837},
{"t":"d","a":128.9,"b":132.1,"p":1.0895,"q":1.0883},
{"t":"d","a":106.9,"b":185.9,"p":1.0779,"q":1.0748},
{"t":"d","a":185.9,"b":195.6,"p":1.0762,"q":1.0748},
{"t":"d","a":140.9,"b":146.6,"p":1.1100,"q":1.1088},
{"t":"d","a":139.9,"b":149.1,"p":1.1074,"q":1.1032},
{"t":"d","a":138.9,"b":154.6,"p":1.1023,"q":1.1018},
{"t":"d","a":157.9,"b":170.1,"p":1.1070,"q":1.1056},
{"t":"d","a":135.9,"b":175.6,"p":1.0951,"q":1.0942},
{"t":"d","a":191.9,"b":195.9,"p":1.0835,"q":1.0828},
{"t":"d","a":249.9,"b":258.6,"p":1.0344,"q":1.0332},
{"t":"d","a":245.9,"b":258.6,"p":1.0260,"q":1.0251},
{"t":"d","a":267.9,"b":270.9,"p":1.0451,"q":1.0434},
{"t":"d","a":281.9,"b":295.9,"p":1.0767,"q":1.0734},
{"t":"d","a":281.9,"b":424.9,"p":1.0734,"q":1.0630},
{"t":"d","a":280.9,"b":424.9,"p":1.0604,"q":1.0507},
{"t":"d","a":279.9,"b":424.9,"p":1.0472,"q":1.0420},
{"t":"d","a":307.9,"b":328.6,"p":1.1188,"q":1.1097},
{"t":"d","a":308.9,"b":326.6,"p":1.1265,"q":1.1244},
{"t":"d","a":351.9,"b":357.1,"p":1.1486,"q":1.1449},
{"t":"d","a":362.9,"b":372.1,"p":1.1684,"q":1.1667},
{"t":"d","a":361.9,"b":374.6,"p":1.1653,"q":1.1644},
{"t":"d","a":360.9,"b":375.9,"p":1.1590,"q":1.1583},
{"t":"d","a":359.9,"b":384.6,"p":1.1574,"q":1.1546},
{"t":"d","a":388.9,"b":424.9,"p":1.1530,"q":1.1463},
{"t":"d","a":413.9,"b":416.9,"p":1.1704,"q":1.1672},
{"t":"d","a":391.9,"b":393.6,"p":1.1611,"q":1.1590},
{"t":"d","a":314.9,"b":315.9,"p":1.1418,"q":1.1400},
{"t":"d","a":338.9,"b":339.9,"p":1.1360,"q":1.1346}
],
"tabs":[
{"tab":"US30_ecn,H4","on":0},{"tab":"US500_ecn,M5","on":0},{"tab":"US100_ecn,M5","on":0},{"tab":"AUDCHF_ecn,H4","on":0},{"tab":"GER40_ecn,H4","on":0},{"tab":"XAUUSD_ecn,M5","on":0},{"tab":"EURJPY_ecn,Daily","on":0},{"tab":"ASX_ecn,Daily","on":0},{"tab":"EURUSD_ecn,Daily","on":1},{"tab":"GBPUSD_ecn,H4","on":0},{"tab":"AUDUSD_ecn,M5","on":0},{"tab":"XAUUSD_ecn,V","on":0}
]
},
"layer":[
{"layer":[
{"data":{"name":"zones"},"mark":{"type":"rect"},
 "encoding":{
  "x":{"field":"a","type":"quantitative","scale":{"domain":[-0.875,458.375],"nice":false,"zero":false,"padding":0},
   "axis":{"orient":"bottom","values":[-0.875,30,62,94,126,158,190,222,254,286,318,350,382,414],"labelAlign":"left","labelFlush":false,"labelOverlap":false,"labelPadding":3,
   "tickOpacity":{"condition":{"test":"datum.value < 0","value":0},"value":1},
   "labelExpr":"datum.value < 0 ? '2 Feb 2024' : datum.value == 30 ? '19 Mar 2024' : datum.value == 62 ? '2 May 2024' : datum.value == 94 ? '17 Jun 2024' : datum.value == 126 ? '31 Jul 2024' : datum.value == 158 ? '13 Sep 2024' : datum.value == 190 ? '29 Oct 2024' : datum.value == 222 ? '12 Dec 2024' : datum.value == 254 ? '27 Jan 2025' : datum.value == 286 ? '12 Mar 2025' : datum.value == 318 ? '25 Apr 2025' : datum.value == 350 ? '10 Jun 2025' : datum.value == 382 ? '24 Jul 2025' : '8 Sep 2025'"}},
  "x2":{"field":"b"},
  "y":{"field":"p","type":"quantitative","scale":{"domain":[1.0137,1.19114],"nice":false,"zero":false,"padding":0},
   "axis":{"orient":"right","values":[1.188,1.1728,1.1576,1.1426,1.1274,1.1124,1.0972,1.082,1.067,1.0518,1.0368,1.0216],"format":".5f","labelFlush":false,"labelOverlap":false}},
  "y2":{"field":"q"},
  "color":{"condition":{"test":"datum.t == 's'","value":"#dcdcdc"},"value":"#add8e6"}
 }},
{"data":{"name":"candles"},"mark":{"type":"rule","strokeWidth":1},
 "encoding":{
  "x":{"field":"k","type":"quantitative","scale":{"domain":[-0.875,458.375],"nice":false,"zero":false,"padding":0}},
  "y":{"field":"l","type":"quantitative","scale":{"domain":[1.0137,1.19114],"nice":false,"zero":false,"padding":0}},
  "y2":{"field":"h"},
  "color":{"condition":{"test":"datum.c >= datum.o","value":"#32cd32"},"value":"#ff0000"}
 }},
{"data":{"name":"candles"},"mark":{"type":"bar","size":3},
 "encoding":{
  "x":{"field":"k","type":"quantitative","scale":{"domain":[-0.875,458.375],"nice":false,"zero":false,"padding":0}},
  "y":{"field":"o","type":"quantitative","scale":{"domain":[1.0137,1.19114],"nice":false,"zero":false,"padding":0}},
  "y2":{"field":"c"},
  "color":{"condition":{"test":"datum.c >= datum.o","value":"#32cd32"},"value":"#ff0000"}
 }},
{"data":{"values":[{}]},"mark":{"type":"rule","color":"#778899","strokeWidth":1},
 "encoding":{"y":{"datum":1.17648,"type":"quantitative","scale":{"domain":[1.0137,1.19114],"nice":false,"zero":false,"padding":0}}}},
{"data":{"values":[{}]},"mark":{"type":"text","text":"EURUSD_ecn,Daily\u00a0\u00a01.17599 1.17660 1.17568 1.17648","align":"left","baseline":"middle","fontSize":14,"font":"Liberation Sans","color":"#000000"},
 "encoding":{"x":{"datum":3.375,"type":"quantitative","scale":{"domain":[-0.875,458.375],"nice":false,"zero":false,"padding":0}},
  "y":{"datum":1.18905,"type":"quantitative","scale":{"domain":[1.0137,1.19114],"nice":false,"zero":false,"padding":0}}}},
{"data":{"values":[{}]},"mark":{"type":"point","shape":"triangle-down","filled":true,"size":55,"color":"#000000","opacity":1},
 "encoding":{"x":{"datum":0.65,"type":"quantitative","scale":{"domain":[-0.875,458.375],"nice":false,"zero":false,"padding":0}},
  "y":{"datum":1.1891,"type":"quantitative","scale":{"domain":[1.0137,1.19114],"nice":false,"zero":false,"padding":0}}}},
{"data":{"values":[{}]},"mark":{"type":"point","shape":"triangle-down","filled":true,"size":110,"color":"#778899","opacity":1},
 "encoding":{"x":{"datum":365.75,"type":"quantitative","scale":{"domain":[-0.875,458.375],"nice":false,"zero":false,"padding":0}},
  "y":{"datum":1.1907,"type":"quantitative","scale":{"domain":[1.0137,1.19114],"nice":false,"zero":false,"padding":0}}}},
{"data":{"values":[{}]},"mark":{"type":"rect","color":"#000000"},
 "encoding":{"x":{"datum":458.375,"type":"quantitative","scale":{"domain":[-0.875,458.375],"nice":false,"zero":false,"padding":0}},"x2":{"datum":473.6},
  "y":{"datum":1.17858,"type":"quantitative","scale":{"domain":[1.0137,1.19114],"nice":false,"zero":false,"padding":0}},"y2":{"datum":1.17463}}},
{"data":{"values":[{}]},"mark":{"type":"text","text":"1.17648","align":"left","baseline":"middle","fontSize":14,"font":"Liberation Sans","color":"#ffffff"},
 "encoding":{"x":{"datum":459.3,"type":"quantitative","scale":{"domain":[-0.875,458.375],"nice":false,"zero":false,"padding":0}},
  "y":{"datum":1.17648,"type":"quantitative","scale":{"domain":[1.0137,1.19114],"nice":false,"zero":false,"padding":0}}}}
]},
{"layer":[
{"data":{"name":"tabs"},"mark":{"type":"rect","strokeWidth":1},
 "encoding":{
  "x":{"field":"tab","type":"nominal","sort":null,"scale":{"type":"band","range":[0,1897],"paddingInner":0,"paddingOuter":0},"axis":null},
  "y":{"datum":0,"type":"quantitative","scale":{"domain":[0,1],"range":[823,793]},"axis":null},
  "y2":{"datum":1},
  "fill":{"condition":{"test":"datum.on == 1","value":"#ffffff"},"value":"#f0f0f0"},
  "stroke":{"condition":{"test":"datum.on == 1","value":"#000000"},"value":"#c8c8c8"}
 }},
{"data":{"name":"tabs"},"mark":{"type":"text","fontSize":17,"font":"Liberation Sans","baseline":"middle","align":"center"},
 "encoding":{
  "x":{"field":"tab","type":"nominal","sort":null,"scale":{"type":"band","range":[0,1897],"paddingInner":0,"paddingOuter":0},"axis":null},
  "y":{"datum":0.5,"type":"quantitative","scale":{"domain":[0,1],"range":[823,793]},"axis":null},
  "text":{"field":"tab"},
  "color":{"condition":{"test":"datum.on == 1","value":"#000000"},"value":"#6d6d6d"}
 }}
]}
],
"resolve":{"scale":{"x":"independent","y":"independent"},"axis":{"x":"independent","y":"independent"}}
}
